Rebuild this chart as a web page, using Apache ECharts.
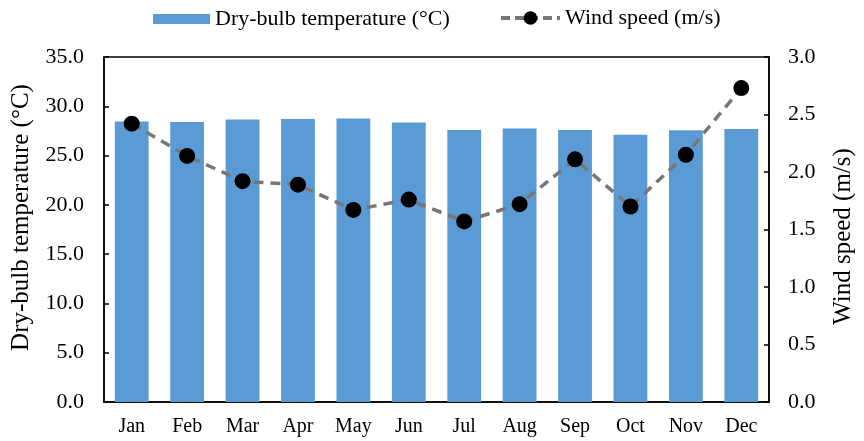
<!DOCTYPE html>
<html>
<head>
<meta charset="utf-8">
<script src="https://cdn.jsdelivr.net/npm/echarts@6/dist/echarts.min.js"></script>
<style>
  html, body { margin: 0; padding: 0; background: #fff; }
  #chart { width: 864px; height: 441px; }
</style>
</head>
<body>
<div id="chart"></div>
<script>
// Monthly climate data
const months = ['Jan', 'Feb', 'Mar', 'Apr', 'May', 'Jun', 'Jul', 'Aug', 'Sep', 'Oct', 'Nov', 'Dec'];
const dryBulbTemp = [28.45, 28.4, 28.65, 28.7, 28.77, 28.35, 27.6, 27.75, 27.6, 27.12, 27.58, 27.7];
const windSpeed = [2.42, 2.14, 1.92, 1.89, 1.67, 1.76, 1.57, 1.72, 2.11, 1.70, 2.15, 2.73];
const tempTicks = { min: 0, max: 35, interval: 5 };
const windTicks = { min: 0, max: 3, interval: 0.5 };

const TEMP_NAME = 'Dry-bulb temperature (°C)';
const WIND_NAME = 'Wind speed (m/s)';
const FONT = '"Liberation Serif", "Times New Roman", serif';

const chart = echarts.init(document.getElementById('chart'), null, { renderer: 'canvas' });

const legendText = { fontFamily: FONT, fontSize: 22, color: '#000' };

chart.setOption({
  animation: false,
  textStyle: { fontFamily: FONT, color: '#000' },
  legend: [
    {
      top: 3, left: 148,
      itemWidth: 57, itemHeight: 10, itemGap: 10,
      textStyle: legendText,
      data: [{ name: TEMP_NAME, icon: 'rect' }]
    },
    {
      top: 2, left: 494,
      itemWidth: 59, itemHeight: 17, itemGap: 10,
      textStyle: legendText,
      data: [{ name: WIND_NAME, lineStyle: { width: 4, type: [9, 5] } }]
    }
  ],
  grid: {
    left: 104, right: 91, top: 57, bottom: 39,
    show: true, borderColor: '#000', borderWidth: 1.5, containLabel: false
  },
  xAxis: {
    type: 'category',
    data: months,
    axisLine: { show: true, lineStyle: { color: '#000', width: 1.5 } },
    axisTick: { show: false },
    axisLabel: { fontFamily: FONT, fontSize: 20, color: '#000', margin: 15 }
  },
  yAxis: [
    {
      type: 'value',
      min: tempTicks.min, max: tempTicks.max, interval: tempTicks.interval,
      name: TEMP_NAME,
      nameLocation: 'middle',
      nameGap: 70,
      nameTextStyle: { fontFamily: FONT, fontSize: 25, color: '#000', padding: [0, 0, 0, 24] },
      axisLine: { show: true, lineStyle: { color: '#000', width: 1.5 } },
      axisTick: { show: true, inside: true, length: 5, lineStyle: { color: '#000', width: 1.5 } },
      splitLine: { show: false },
      axisLabel: {
        fontFamily: FONT, fontSize: 22, color: '#000', margin: 20,
        formatter: v => v.toFixed(1)
      }
    },
    {
      type: 'value',
      min: windTicks.min, max: windTicks.max, interval: windTicks.interval,
      name: WIND_NAME,
      nameLocation: 'middle',
      nameGap: 62,
      nameRotate: 90,
      nameTextStyle: { fontFamily: FONT, fontSize: 25, color: '#000', padding: [0, 14, 0, 0] },
      axisLine: { show: true, lineStyle: { color: '#000', width: 1.5 } },
      axisTick: { show: true, inside: true, length: 5, lineStyle: { color: '#000', width: 1.5 } },
      splitLine: { show: false },
      axisLabel: {
        fontFamily: FONT, fontSize: 22, color: '#000', margin: 19,
        formatter: v => v.toFixed(1)
      }
    }
  ],
  series: [
    {
      name: TEMP_NAME,
      type: 'bar',
      yAxisIndex: 0,
      data: dryBulbTemp,
      barCategoryGap: '39%',
      itemStyle: { color: '#5b9bd5' }
    },
    {
      name: WIND_NAME,
      type: 'line',
      yAxisIndex: 1,
      data: windSpeed,
      symbol: 'circle',
      symbolSize: 16,
      itemStyle: { color: '#000' },
      lineStyle: { color: '#777', width: 3.5, type: [10, 7] },
      z: 5
    }
  ]
});
</script>
</body>
</html>
